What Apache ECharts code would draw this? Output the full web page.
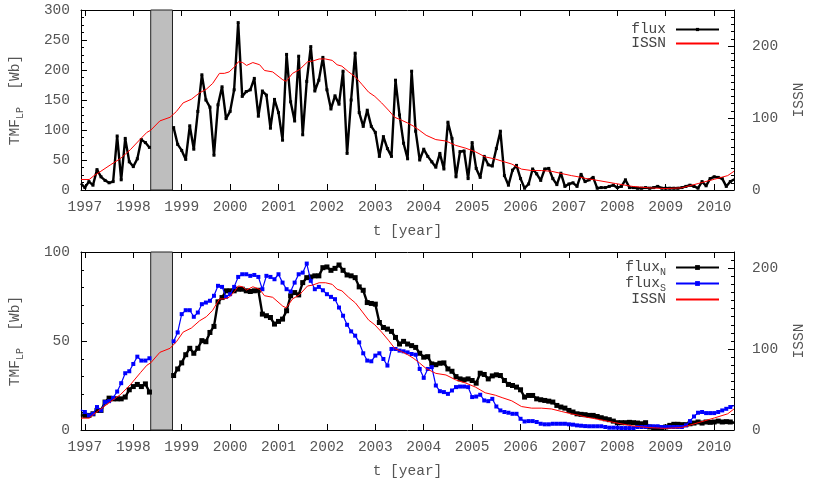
<!DOCTYPE html>
<html><head><meta charset="utf-8">
<script src="https://cdn.jsdelivr.net/npm/echarts@6/dist/echarts.min.js"></script>
<style>html,body{margin:0;padding:0;background:#fff}#c{width:815px;height:480px}</style>
</head><body><div id="c"></div>
<script>
// ---------- data ----------
const startYear = 1996.917;      // first monthly sample (Dec 1996)
const samplesPerYear = 12;        // monthly samples
const yearTicks = [1997,1998,1999,2000,2001,2002,2003,2004,2005,2006,2007,2008,2009,2010];
const gapYears = [1998.36, 1998.81]; // SOHO data gap (grey box)

// total LP flux (top panel), monthly, null = no data
const flux = [11,4,14,8,34,22,16,12,14,90,17,86,47,39,52,84,79,71,
  null,null,null,null,null,
  104,76,66,51,107,68,131,192,150,138,58,142,172,119,131,167,279,156,164,
  167,186,123,165,158,103,151,129,83,226,147,115,223,92,181,239,165,183,221,167,
  135,157,143,198,61,150,228,129,106,133,106,96,56,89,69,56,183,125,78,52,
  198,98,50,68,56,47,38,61,35,113,86,22,64,65,19,79,36,21,56,42,40,69,98,24,8,
  33,41,19,3,10,35,27,16,35,36,19,9,28,6,10,12,
  6,26,14,17,21,3,4,4,6,8,4,6,17,4,4,3,3,4,3,4,6,3,3,3,3,3,4,6,8,6,3,14,7,19,22,21,19,6,14,18];

// northern hemisphere LP flux (bottom panel)
const fluxN = [8.2,8.2,8.2,9.1,11,11,15.7,17.9,17.5,17.5,17.5,18.5,22.6,24.4,25.6,24.4,25.9,21.3,
  null,null,null,null,null,
  30.6,34.3,37.7,42.3,45.9,43.1,45.9,50.2,49.6,54.8,58.2,72,74.4,78.2,78.2,78.2,79.1,79.1,78.2,77.8,78.2,78.5,
  65.1,64.2,63.2,59.5,61,62.3,67,75.4,77.2,75.9,82.8,85.6,86,86.6,86.6,91.2,91.6,89.7,90.8,92.7,89.7,87.1,86.6,85.6,
  80.4,78.5,71.6,71.1,70.7,60.4,57.6,56.7,55.4,52,48.3,49.8,48.3,
  47.4,46.4,43.1,40.9,41.2,37.1,36.7,37.5,37.7,34.3,33,30,28.7,28.2,28.7,27.8,26.3,31.9,31.2,28.7,30.4,31,30.6,
  27.8,25.6,25,24.1,22.6,18.5,19.4,19.4,17.5,17,16.6,16.2,15.7,13.8,12.9,12.3,11,10.1,9.1,8.8,8.6,8.2,8.2,7.6,
  6.9,6.3,5.8,5,4.1,4.1,4.1,4.3,4.1,3.9,3.5,4.1,1.7,1.3,1.1,1.3,1.7,2.6,3.2,3.2,3,3,3.5,3.9,4.5,3.9,4.5,4.3,
  4.5,5,4.5,4.7,4.5,4.1];

// southern hemisphere LP flux (bottom panel)
const fluxS = [11.4,10.1,8.2,9.1,12.9,11,15.7,16.2,18.1,21.6,26.3,31.9,33,37.1,41.2,39,39,40.3,
  null,null,null,null,null,
  49.8,54.8,65.1,67.3,67.3,63.6,66,70.7,71.6,72.6,75.4,81,80.4,74.8,76.3,80.4,86,87.5,87.5,86.6,87.1,86,
  79.1,86.6,86,84.7,87.5,82.8,79.1,77.8,82.8,87.5,88.4,93.5,83.8,79.1,80.4,78.5,76.3,74.8,73.5,68.8,64.2,59.1,
  55.4,53,49.2,43.1,39,38.6,41.8,43.1,39.9,36.2,45.5,45.5,44.6,44.2,43.6,
  42.7,42.3,34.3,29.3,34.3,35.3,25,21.8,21.3,20.3,22.2,24.1,24.4,24.4,24.1,18.5,18.8,19.8,16.6,16.2,17.5,13.2,
  11,10.1,9.7,9.1,9.1,6.3,4.8,5,5,4.5,3.5,3.2,3.2,3.5,3.5,3.5,3.5,3.2,3,2.6,2.4,2.2,2.1,2.1,2.1,2.1,1.7,1.3,
  1.3,1.3,1.1,1.1,1.1,1.1,1.7,1.7,1.7,2.1,2.1,2.1,1.7,1.7,1.7,1.7,1.7,1.7,2.6,5,7.6,9.7,10.1,9.5,9.5,9.5,10.1,
  11,11.9,12.9,13.8];

// smoothed international sunspot number [year, ISSN]
const issnYears = [1996.92,1997.09,1997.19,1997.33,1997.53,1997.74,1997.94,1998.15,1998.28,1998.36,1998.55,1998.76,
  1998.89,1999.03,1999.20,1999.37,1999.51,1999.64,1999.78,1999.88,1999.98,2000.09,2000.17,2000.26,2000.34,2000.47,
  2000.61,2000.71,2000.88,2001.09,2001.16,2001.29,2001.43,2001.60,2001.70,2001.84,2001.97,2002.11,2002.21,2002.31,
  2002.45,2002.59,2002.72,2002.86,2002.99,2003.13,2003.27,2003.40,2003.54,2003.67,2003.78,2003.91,2004.05,2004.25,
  2004.46,2004.66,2004.87,2005.07,2005.27,2005.48,2005.62,2005.82,2006.02,2006.23,2006.43,2006.64,2006.84,2007.05,
  2007.22,2007.35,2007.62,2007.96,2008.31,2008.65,2008.99,2009.33,2009.67,2010.01,2010.28,2010.41];
const issnValues = [14.6,14.6,20,26,35,44,56,71,80,83,96,101,
  109,121,126,135,140,148,162,162,164,171,178,177,173,177,
  174,166,164,153,151,162,167,178,179,182,182,180,174,172,
  164,157,147,136,130,121,111,101,97,93,89,83,76,70,
  68,62,58,53,46,43,40,36,29,27,27,26,23,20,
  18,16,13,9,5,3,2,3,9,15,20,26];

// ---------- chart ----------
const X_MIN = 1996.92, X_MAX = 2010.41;
const FONT = 'Liberation Mono';
const GRAY = '#555';
const FS = 14.5;
const monthly = arr => arr.map((v, k) => [startYear + k / samplesPerYear, v === null ? '-' : v]);
const issnData = issnYears.map((t, i) => [t, issnValues[i]]);

function xPair(gridIndex) {
  const common = {
    type: 'value', gridIndex, min: X_MIN, max: X_MAX,
    splitLine: {show: false},
    axisLine: {show: true, onZero: false, lineStyle: {color: '#000', width: 1}},
    axisTick: {show: true, inside: true, length: 6, customValues: yearTicks, lineStyle: {color: '#000'}}
  };
  return [
    Object.assign({}, common, {
      position: 'bottom',
      axisLabel: {customValues: yearTicks, formatter: v => String(Math.round(v)), color: GRAY,
        fontFamily: FONT, fontSize: FS, margin: 10},
      name: 't [year]', nameLocation: 'middle', nameGap: 34,
      nameTextStyle: {color: GRAY, fontFamily: FONT, fontSize: FS}
    }),
    Object.assign({}, common, {position: 'top', axisLabel: {show: false}})
  ];
}

function yLeft(gridIndex, max, interval, minorSplit) {
  return {
    type: 'value', gridIndex, position: 'left', min: 0, max, interval,
    splitLine: {show: false},
    axisLine: {show: true, onZero: false, lineStyle: {color: '#000'}},
    axisTick: {show: true, inside: true, length: 6, lineStyle: {color: '#000'}},
    minorTick: {show: true, splitNumber: minorSplit, length: 3, lineStyle: {color: '#000'}},
    minorSplitLine: {show: false},
    axisLabel: {color: GRAY, fontFamily: FONT, fontSize: FS, margin: 11},
    name: '{a|TMF}{s|LP}{a|  [Wb]}', nameLocation: 'middle', nameGap: 56, nameRotate: 90,
    nameTextStyle: {color: GRAY, fontFamily: FONT, fontSize: FS,
      rich: {a: {color: GRAY, fontFamily: FONT, fontSize: FS},
             s: {color: GRAY, fontFamily: FONT, fontSize: 10, padding: [9, 0, 0, 0]}}}
  };
}

function yRight(gridIndex, max) {
  return {
    type: 'value', gridIndex, position: 'right', min: 0, max, interval: 100,
    splitLine: {show: false},
    axisLine: {show: true, onZero: false, lineStyle: {color: '#000'}},
    axisTick: {show: true, inside: true, length: 6, lineStyle: {color: '#000'}},
    minorTick: {show: true, splitNumber: 10, length: 3, lineStyle: {color: '#000'}},
    minorSplitLine: {show: false},
    axisLabel: {color: GRAY, fontFamily: FONT, fontSize: FS, margin: 18, showMaxLabel: false,
      formatter: v => (v % 100 === 0 ? String(v) : '')},
    name: 'ISSN', nameLocation: 'middle', nameGap: 58, nameRotate: 90,
    nameTextStyle: {color: GRAY, fontFamily: FONT, fontSize: FS}
  };
}

const legendText = {color: '#444', fontFamily: FONT, fontSize: FS, padding: [0, 5, 0, 0],
  rich: {m: {color: '#444', fontFamily: FONT, fontSize: FS},
         s: {color: '#444', fontFamily: FONT, fontSize: 10, padding: [9, 0, 0, 0]}}};
const issnLegendItem = {name: 'ISSN', itemStyle: {color: 'rgba(0,0,0,0)', borderWidth: 0, opacity: 0}};

const gapArea = {
  silent: true,
  itemStyle: {color: '#bebebe', borderColor: '#222', borderWidth: 1, opacity: 1},
  data: [[{xAxis: gapYears[0]}, {xAxis: gapYears[1]}]]
};

const option = {
  animation: false,
  backgroundColor: '#fff',
  grid: [
    {left: 79, right: 75, top: 10, height: 180},
    {left: 79, right: 75, top: 252, height: 179}
  ],
  xAxis: [...xPair(0), ...xPair(1)],
  yAxis: [yLeft(0, 300, 50, 4), yRight(0, 250), yLeft(1, 100, 50, 5), yRight(1, 220)],
  legend: [
    {data: ['flux', issnLegendItem], orient: 'vertical', right: 95, top: 22, align: 'right', padding: 0,
      itemWidth: 43, itemHeight: 4, itemGap: -1, textStyle: legendText,
      formatter: n => '{m|' + n + '}'},
    {data: ['fluxN', 'fluxS', issnLegendItem], orient: 'vertical', right: 95, top: 260, align: 'right', padding: 0,
      itemWidth: 43, itemHeight: 6, itemGap: -1, textStyle: legendText,
      formatter: n => n === 'fluxN' ? '{m|flux}{s|N}' : n === 'fluxS' ? '{m|flux}{s|S}' : '{m|' + n + '}'}
  ],
  series: [
    {name: 'ISSN', type: 'line', xAxisIndex: 0, yAxisIndex: 1, data: issnData, symbol: 'none',
      lineStyle: {color: '#ff0000', width: 1}, itemStyle: {color: '#ff0000'}, z: 3, markArea: gapArea},
    {name: 'flux', type: 'line', xAxisIndex: 0, yAxisIndex: 0, data: monthly(flux), symbol: 'rect', symbolSize: 3,
      connectNulls: false, lineStyle: {color: '#000', width: 2.4}, itemStyle: {color: '#000'}, z: 2},
    {name: 'ISSN', type: 'line', xAxisIndex: 2, yAxisIndex: 3, data: issnData, symbol: 'none',
      lineStyle: {color: '#ff0000', width: 1}, itemStyle: {color: '#ff0000'}, z: 4, markArea: gapArea},
    {name: 'fluxN', type: 'line', xAxisIndex: 2, yAxisIndex: 2, data: monthly(fluxN), symbol: 'rect', symbolSize: 5,
      connectNulls: false, lineStyle: {color: '#000', width: 2.4}, itemStyle: {color: '#000'}, z: 2},
    {name: 'fluxS', type: 'line', xAxisIndex: 2, yAxisIndex: 2, data: monthly(fluxS), symbol: 'rect', symbolSize: 4,
      connectNulls: false, lineStyle: {color: '#0000ff', width: 1.2}, itemStyle: {color: '#0000ff'}, z: 3}
  ]
};

const chart = echarts.init(document.getElementById('c'), null, {renderer: 'canvas'});
chart.setOption(option);
</script>
</body></html>
